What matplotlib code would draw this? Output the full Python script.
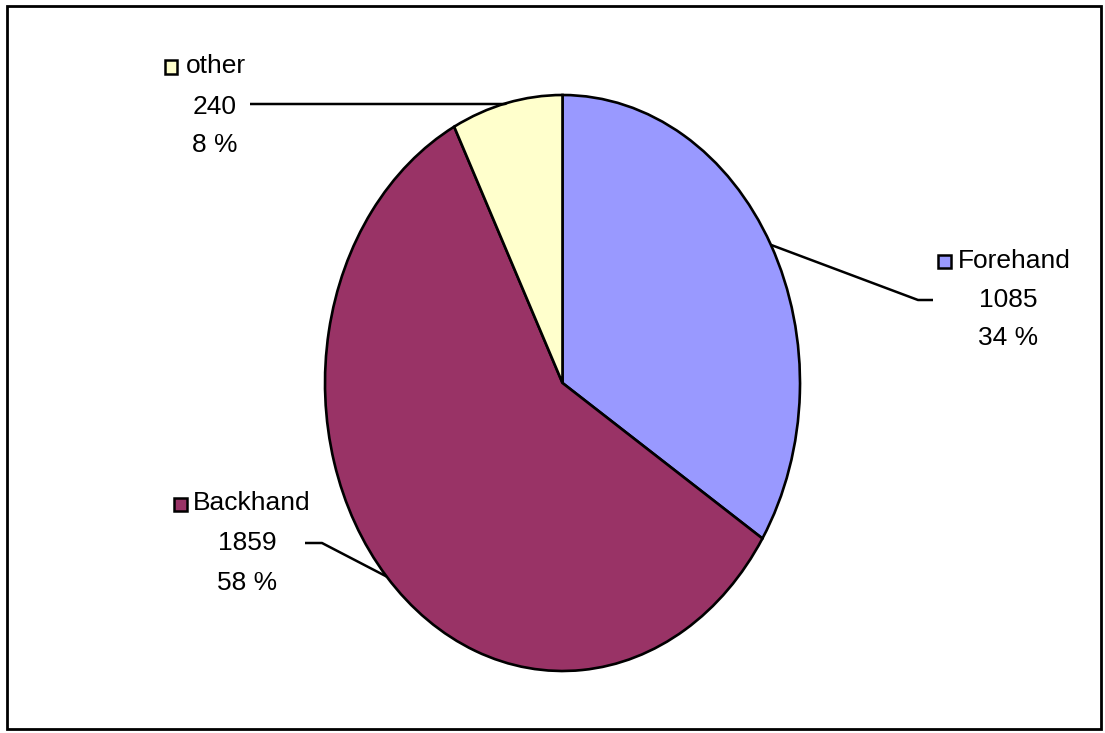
import matplotlib.pyplot as plt
import matplotlib.patches as mpatches
import numpy as np

plt.rcParams['font.family'] = ['Liberation Sans Narrow', 'Liberation Sans', 'DejaVu Sans']

categories = ["Forehand", "Backhand", "other"]
counts = [1085, 1859, 240]
colors = ["#9999FF", "#993366", "#FFFFCC"]

W, H = 1105, 733
fig = plt.figure(figsize=(W / 100, H / 100), dpi=100)

# pie is drawn as an ellipse: stretched axes
cx, cy, rx, ry = 562.5, 383, 237.5, 288
ax = fig.add_axes([(cx - rx) / W, (H - cy - ry) / H, 2 * rx / W, 2 * ry / H])
wedges, _ = ax.pie(counts, colors=colors, startangle=90, counterclock=False,
                   wedgeprops=dict(edgecolor="black", linewidth=1.9))
ax.set_aspect("auto")
ax.set_xlim(-1, 1)
ax.set_ylim(-1, 1)
ax.axis("off")


def to_data(x, y):
    return (x - cx) / rx, (cy - y) / ry


total = sum(counts)
# label layout in pixels: key square centre, name left edge, value centre x, rows y, elbow, line end
layout = {
    "Forehand": dict(key=(944, 262), name_x=958, val_x=1008, rows=(261, 300, 338),
                     elbow=(918, 300), end=(933, 300)),
    "Backhand": dict(key=(180, 504), name_x=193, val_x=247, rows=(503, 543, 583),
                     elbow=(322, 543), end=(305, 543)),
    "other": dict(key=(171, 67), name_x=186, val_x=215, rows=(66, 107, 145),
                  elbow=(505, 104), end=(250, 104)),
}

fs = 19
for w, name, n, col in zip(wedges, categories, counts, colors):
    L = layout[name]
    mid = np.deg2rad((w.theta1 + w.theta2) / 2)
    ax_pt = (np.cos(mid), np.sin(mid))
    e = to_data(*L["elbow"])
    t = to_data(*L["end"])
    ax.plot([ax_pt[0], e[0], t[0]], [ax_pt[1], e[1], t[1]], color="black",
            linewidth=1.8, clip_on=False, solid_capstyle="butt")
    kx, ky = L["key"]
    fig.patches.append(mpatches.Rectangle(((kx - 6.5) / W, 1 - (ky + 6.5) / H), 13 / W, 13 / H,
                                          transform=fig.transFigure, facecolor=col,
                                          edgecolor="black", linewidth=1.8))
    fig.text(L["name_x"] / W, 1 - L["rows"][0] / H, name, fontsize=fs, va="center", ha="left")
    fig.text(L["val_x"] / W, 1 - L["rows"][1] / H, str(n), fontsize=fs, va="center", ha="center")
    fig.text(L["val_x"] / W, 1 - L["rows"][2] / H, "%d %%" % round(100 * n / total),
             fontsize=fs, va="center", ha="center")

# outer frame
fig.patches.append(mpatches.Rectangle((7 / W, 1 - 729 / H), 1094 / W, 723 / H,
                                      transform=fig.transFigure, fill=False,
                                      edgecolor="black", linewidth=2))

fig.savefig("out.png", dpi=100, facecolor="white")
